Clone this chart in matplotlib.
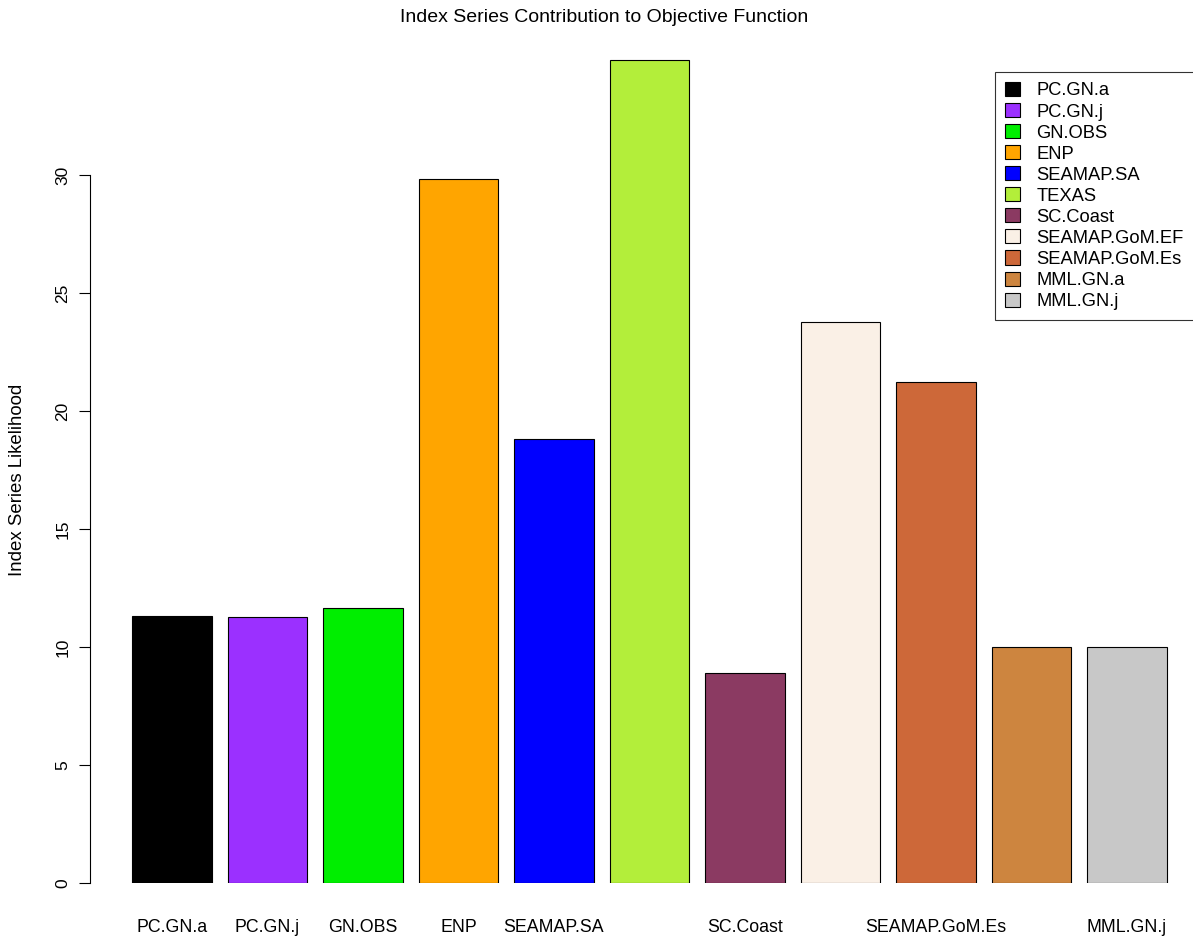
import numpy as np
import matplotlib.pyplot as plt
from matplotlib.patches import Patch

# index series and their likelihood contributions
series = ['PC.GN.a', 'PC.GN.j', 'GN.OBS', 'ENP', 'SEAMAP.SA', 'TEXAS', 'SC.Coast',
          'SEAMAP.GoM.EF', 'SEAMAP.GoM.Es', 'MML.GN.a', 'MML.GN.j']
likelihood = [11.31, 11.27, 11.65, 29.83, 18.81, 34.87, 8.90, 23.77, 21.23, 10.0, 10.0]
colors = ['#000000', '#9B30FF', '#00EE00', '#FFA500', '#0000FF', '#B3EE3A', '#8B3A62',
          '#FAF0E6', '#CD6839', '#CD853F', '#C8C8C8']
# R drops overlapping axis names, only these got drawn
shown_labels = ['PC.GN.a', 'PC.GN.j', 'GN.OBS', 'ENP', 'SEAMAP.SA', '', 'SC.Coast',
                '', 'SEAMAP.GoM.Es', '', 'MML.GN.j']

plt.rcParams['font.family'] = ['Liberation Sans', 'DejaVu Sans']

W, H = 1193, 942
fig = plt.figure(figsize=(W / 100, H / 100), dpi=100)
ax = fig.add_axes([90 / W, (H - 883) / H, (W - 90) / W, (883 - 50) / H])

x = np.arange(len(series))
ax.bar(x, likelihood, width=0.835, color=colors, edgecolor='black', linewidth=0.8)

ax.set_xlim((90 - 172) / 95.5, (W - 172) / 95.5)
ax.set_ylim(0, (883 - 50) / 23.6)

for s in ['top', 'right', 'bottom']:
    ax.spines[s].set_visible(False)
ax.spines['left'].set_bounds(0, 30)
ax.set_yticks([0, 5, 10, 15, 20, 25, 30])
ax.tick_params(axis='y', length=8, labelsize=12.5, pad=6)
for lab in ax.get_yticklabels():
    lab.set_rotation(90)
    lab.set_va('center')

ax.set_xticks(x)
ax.set_xticklabels(shown_labels, fontsize=12.8)
ax.tick_params(axis='x', length=0, pad=26)

fig.text(18 / W, 1 - 480 / H, 'Index Series Likelihood', rotation=90,
         ha='center', va='center', fontsize=13.4)
fig.text(604 / W, 1 - 18 / H, 'Index Series Contribution to Objective Function',
         ha='center', va='center', fontsize=14)

handles = [Patch(facecolor=c, edgecolor='black', linewidth=0.8) for c in colors]
leg = fig.legend(handles, series, loc='upper left',
                 bbox_to_anchor=(995 / W, 1 - 72 / H), fontsize=13.2,
                 frameon=True, fancybox=False, edgecolor='black',
                 handlelength=0.8, handleheight=0.8, handletextpad=0.9,
                 labelspacing=0.2, borderpad=0.55, borderaxespad=0)
leg.get_frame().set_linewidth(0.8)

fig.savefig('out.png', dpi=100)
